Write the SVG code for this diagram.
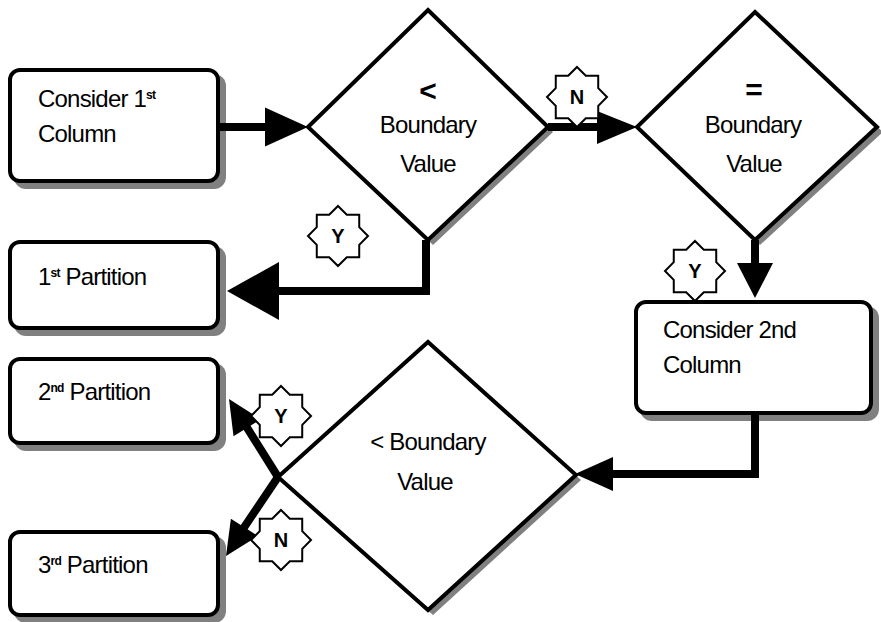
<svg xmlns="http://www.w3.org/2000/svg" xmlns:xlink="http://www.w3.org/1999/xlink" width="881" height="622" viewBox="0 0 881 622">
<style>
.bg{fill:#fff}
.box{fill:#fff;stroke:#000;stroke-width:4}
.dia{fill:#fff;stroke:#000;stroke-width:4;stroke-linejoin:miter}
.shadow{fill:#808080;stroke:none}
.t{font-family:"Liberation Sans",Arial,sans-serif;font-size:24px;letter-spacing:-0.8px;fill:#000}
.c{text-anchor:middle}
.sym{font-family:"Liberation Sans",Arial,sans-serif;font-weight:bold;font-size:30px;text-anchor:middle;fill:#000}
.sup{font-size:12px;font-weight:bold}
.conn{fill:none;stroke:#000;stroke-width:8;stroke-linejoin:miter;stroke-linecap:butt}
.head{fill:#000;stroke:none}
.star{fill:#fff;stroke:#000;stroke-width:2}
.lbl{font-family:"Liberation Sans",Arial,sans-serif;font-weight:bold;font-size:20px;text-anchor:middle;fill:#000}
</style>
<defs>
<polygon id="starShape" points="0,-30 8.8,-21.25 21.21,-21.21 21.25,-8.8 30,0 21.25,8.8 21.21,21.21 8.8,21.25 0,30 -8.8,21.25 -21.21,21.21 -21.25,8.8 -30,0 -21.25,-8.8 -21.21,-21.21 -8.8,-21.25"/>
</defs>
<rect class="bg" x="0" y="0" width="881" height="622"/>

<g id="node-consider1">
<rect class="shadow" x="14" y="74" width="212" height="115" rx="12"/>
<rect class="box" x="10" y="70" width="208" height="111" rx="10"/>
<text class="t" x="38" y="107">Consider 1<tspan class="sup" dy="-8">st</tspan></text>
<text class="t" x="38" y="142">Column</text>
</g>

<g id="node-partition1">
<rect class="shadow" x="14" y="246" width="212" height="90" rx="12"/>
<rect class="box" x="10" y="242" width="208" height="86" rx="10"/>
<text class="t" x="38" y="285">1<tspan class="sup" dy="-8">st</tspan><tspan dy="8"> Partition</tspan></text>
</g>

<g id="node-partition2">
<rect class="shadow" x="14" y="363" width="212" height="88" rx="12"/>
<rect class="box" x="10" y="359" width="208" height="84" rx="10"/>
<text class="t" x="38" y="400">2<tspan class="sup" dy="-8">nd</tspan><tspan dy="8"> Partition</tspan></text>
</g>

<g id="node-partition3">
<rect class="shadow" x="14" y="536" width="212" height="87" rx="12"/>
<rect class="box" x="10" y="532" width="208" height="83" rx="10"/>
<text class="t" x="38" y="573">3<tspan class="sup" dy="-8">rd</tspan><tspan dy="8"> Partition</tspan></text>
</g>

<g id="node-decision1">
<polygon class="shadow" points="433,15 553,132 433,245 313,132"/>
<polygon class="dia" points="428,10 548,127 428,240 308,127"/>
<text class="sym" x="428" y="101">&lt;</text>
<text class="t c" x="428" y="133">Boundary</text>
<text class="t c" x="428" y="172">Value</text>
</g>

<g id="node-decision2">
<polygon class="shadow" points="760,17 883,132 760,245 642,132"/>
<polygon class="dia" points="755,12 877,127 755,240 637,127"/>
<text class="sym" x="754" y="100">=</text>
<text class="t c" x="753" y="133">Boundary</text>
<text class="t c" x="754" y="172">Value</text>
</g>

<g id="node-consider2">
<rect class="shadow" x="640" y="306" width="239" height="115" rx="12"/>
<rect class="box" x="636" y="302" width="235" height="111" rx="10"/>
<text class="t" x="663" y="338">Consider 2nd</text>
<text class="t" x="663" y="373">Column</text>
</g>

<g id="node-decision3">
<polygon class="shadow" points="433,347 581,480 433,615 283,482"/>
<polygon class="dia" points="428,342 576,475 428,610 278,477"/>
<text class="t c" x="428" y="450">&lt; Boundary</text>
<text class="t c" x="425" y="490">Value</text>
</g>

<g id="connectors">
<line class="conn" x1="220" y1="127" x2="270" y2="127"/>
<polygon class="head" points="265,107.5 308,127 265,146.5"/>

<line class="conn" x1="548" y1="127" x2="600" y2="127"/>
<polygon class="head" points="597,111 637,127 597,144"/>

<polyline class="conn" points="426,240 426,291 275,291"/>
<polygon class="head" points="279,262 227,291 279,320"/>

<line class="conn" x1="755" y1="240" x2="755" y2="266"/>
<polygon class="head" points="737,263 755,298 773,263"/>

<polyline class="conn" points="755,413 755,474 610,474"/>
<polygon class="head" points="613,457 575,474 613,491"/>

<line class="conn" x1="278" y1="477" x2="246" y2="426"/>
<polygon class="head" points="229,399 260.7,419.3 233.5,436.3"/>

<line class="conn" x1="278" y1="477" x2="243" y2="529"/>
<polygon class="head" points="226,556 257.9,536 230.9,518.8"/>

<use class="star" xlink:href="#starShape" x="338" y="236"/>
<text class="lbl" x="338" y="243">Y</text>
<use class="star" xlink:href="#starShape" x="577" y="97"/>
<text class="lbl" x="577" y="104">N</text>
<use class="star" xlink:href="#starShape" x="695" y="271"/>
<text class="lbl" x="695" y="278">Y</text>
<use class="star" xlink:href="#starShape" x="281" y="416"/>
<text class="lbl" x="281" y="423">Y</text>
<use class="star" xlink:href="#starShape" x="281" y="540"/>
<text class="lbl" x="281" y="547">N</text>
</g>
</svg>
